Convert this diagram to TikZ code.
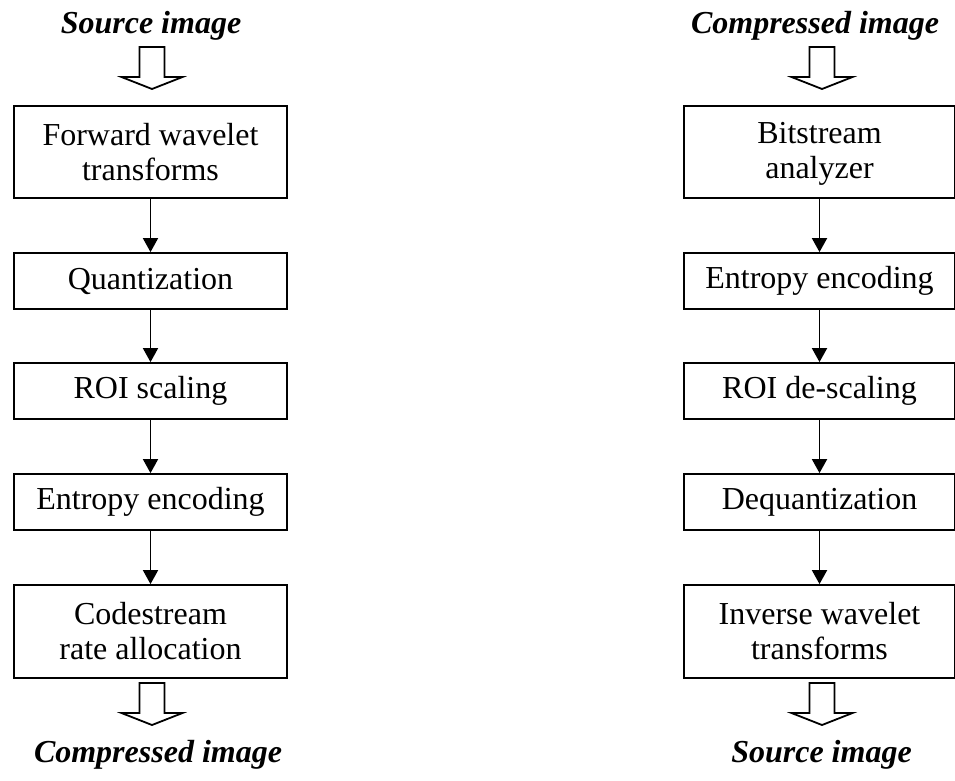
\documentclass[tikz,border=0pt]{standalone}
\usepackage{fontspec}
\setmainfont{Liberation Serif}
\usetikzlibrary{arrows.meta}

\begin{document}
\begin{tikzpicture}[x=1pt,y=-1pt,
    stage/.style={draw,line width=1.8pt,minimum width=273pt,align=center,
        inner sep=0pt,font=\fontsize{32}{35}\selectfont},
    imgtitle/.style={anchor=base,inner sep=0pt,
        font=\fontsize{32}{35}\selectfont\bfseries\itshape},
    flow/.style={-{Triangle[width=15pt,length=14pt]},line width=1.8pt}]

    \useasboundingbox (0,0) rectangle (955,780);

    % encoder
    \node[imgtitle] (srcL) at (151,33) {Source image};
    \node[stage,minimum height=92pt] (fwd) at (150.5,152) {Forward wavelet\\transforms};
    \node[stage,minimum height=56pt] (quant) at (150.5,281) {Quantization};
    \node[stage,minimum height=56pt] (roi) at (150.5,391) {ROI scaling};
    \node[stage,minimum height=56pt] (entenc) at (150.5,502) {Entropy encoding};
    \node[stage,minimum height=93pt] (rate) at (150.5,631.5) {Codestream\\rate allocation};
    \node[imgtitle] (outL) at (158,762) {Compressed image};

    \draw[flow] (fwd) -- (quant);
    \draw[flow] (quant) -- (roi);
    \draw[flow] (roi) -- (entenc);
    \draw[flow] (entenc) -- (rate);

    % decoder
    \begin{scope}[stage/.append style={minimum width=271pt}]
        \node[imgtitle] (srcR) at (815,33) {Compressed image};
        \node[stage,minimum height=92pt] (bits) at (819.5,152) {\strut Bitstream\\analyzer};
        \node[stage,minimum height=56pt] (entdec) at (819.5,281) {Entropy encoding};
        \node[stage,minimum height=56pt] (roide) at (819.5,391) {ROI de-scaling};
        \node[stage,minimum height=56pt] (dequant) at (819.5,502) {Dequantization};
        \node[stage,minimum height=93pt] (inv) at (819.5,631.5) {Inverse wavelet\\transforms};
        \node[imgtitle] (outR) at (821.5,762) {Source image};
    \end{scope}

    \draw[flow] (bits) -- (entdec);
    \draw[flow] (entdec) -- (roide);
    \draw[flow] (roide) -- (dequant);
    \draw[flow] (dequant) -- (inv);

    % hollow arrows
    \coordinate (inL) at (152,47);
    \coordinate (exL) at (152,683);
    \coordinate (inR) at (822,47);
    \coordinate (exR) at (822,683);
    \foreach \c in {inL,exL,inR,exR}
        \draw[line width=1.8pt,shift={(\c)}] (-12.5,0) -- (-12.5,30) -- (-30.5,30)
            -- (0,42) -- (30.5,30) -- (12.5,30) -- (12.5,0) -- cycle;

\end{tikzpicture}
\end{document}
